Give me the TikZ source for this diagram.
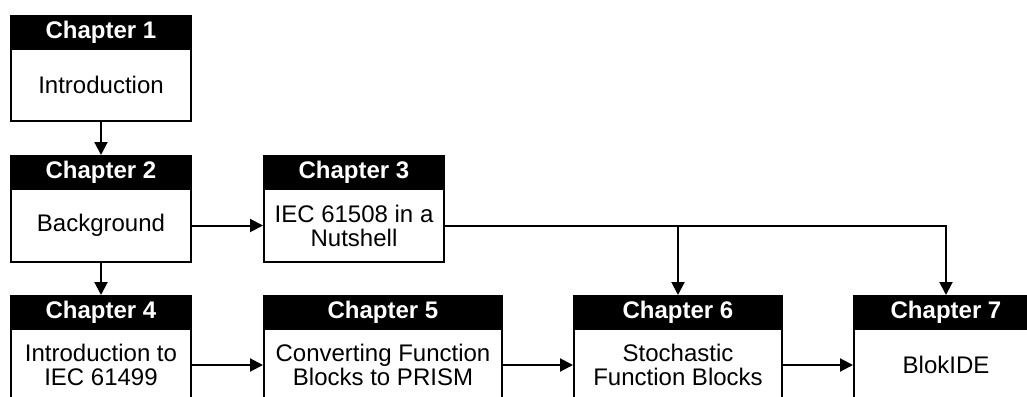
\documentclass[tikz,border=0pt]{standalone}
\usepackage{fontspec}
\setmainfont{Liberation Sans}
\usetikzlibrary{arrows.meta}
\begin{document}
\begin{tikzpicture}[x=1pt,y=-1pt,
  hdr/.style={fill=black, draw=black, line width=2pt, text=white,
    font=\fontsize{24}{25}\selectfont\bfseries, minimum height=33pt,
    inner sep=0pt, anchor=north west},
  bdy/.style={draw=black, fill=white, line width=2pt,
    font=\fontsize{24}{24}\selectfont, align=center,
    inner sep=0pt, anchor=north west},
  conn/.style={line width=2pt, -{Triangle[length=13pt,width=13pt]}}]
\clip (0,0) rectangle (1027,396);
\fill[white] (0,0) rectangle (1027,396);

% Row 1
\node[hdr, minimum width=180pt] (h1) at (10,15) {Chapter 1};
\node[bdy, minimum width=180pt, minimum height=72pt] (b1) at (10,48) {Introduction};

% Row 2
\node[hdr, minimum width=180pt] (h2) at (10,155) {Chapter 2};
\node[bdy, minimum width=180pt, minimum height=73pt] (b2) at (10,188) {Background};
\node[hdr, minimum width=180pt] (h3) at (263,155) {Chapter 3};
\node[bdy, minimum width=180pt, minimum height=73pt] (b3) at (263,188) {IEC 61508 in a\\Nutshell};

% Row 3
\node[hdr, minimum width=180pt] (h4) at (10,295) {Chapter 4};
\node[bdy, minimum width=180pt, minimum height=72pt] (b4) at (10,328) {Introduction to\\IEC 61499};
\node[hdr, minimum width=238pt] (h5) at (263,295) {Chapter 5};
\node[bdy, minimum width=238pt, minimum height=72pt] (b5) at (263,328) {Converting Function\\Blocks to PRISM};
\node[hdr, minimum width=208pt] (h6) at (573,295) {Chapter 6};
\node[bdy, minimum width=208pt, minimum height=72pt] (b6) at (573,328) {Stochastic\\Function Blocks};
\node[hdr, minimum width=184pt] (h7) at (853,295) {Chapter 7};
\node[bdy, minimum width=184pt, minimum height=72pt] (b7) at (853,328) {BlokIDE};

% Connectors
\draw[conn] (b1.south) -- (h2.north);
\draw[conn] (b2.south) -- (h4.north);
\draw[conn] (b2.east) -- (b3.west);
\draw[conn] (b3.east) -| (h7.north);
\draw[conn] (h6.north |- b3.east) -- (h6.north);
\draw[conn] (b4.east) -- (b5.west);
\draw[conn] (b5.east) -- (b6.west);
\draw[conn] (b6.east) -- (b7.west);
\end{tikzpicture}
\end{document}
